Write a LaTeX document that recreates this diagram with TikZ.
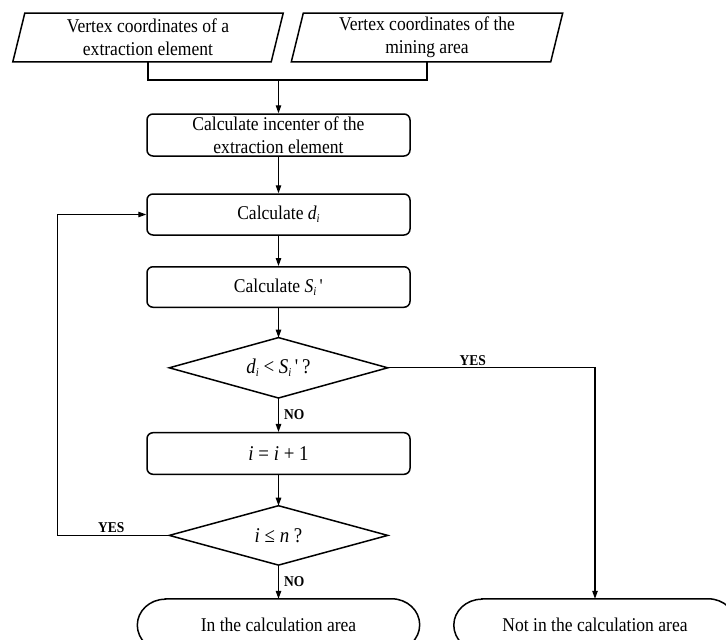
\documentclass[tikz,border=0pt]{standalone}
\usepackage{fontspec}
\setmainfont{Liberation Serif}[FakeStretch=0.9]
\usetikzlibrary{arrows.meta}
\newcommand{\lsub}[1]{\raisebox{-0.35ex}{\fontsize{12}{12}\selectfont\textit{#1}}}
\newcommand{\sprime}{\textquotesingle}
\begin{document}
\begin{tikzpicture}[x=1pt,y=1pt,
  txt/.style={font=\fontsize{19.5}{23}\selectfont, align=center, inner sep=0pt},
  bigtxt/.style={font=\fontsize{21}{24}\selectfont},
  outline/.style={draw=black, line width=1.5pt, line join=miter},
  procbox/.style={txt, draw=black, line width=1.5pt, rounded corners=6pt, minimum width=263pt},
  plainbox/.style={txt, rectangle},
  conn/.style={line width=1.1pt, -{Triangle[length=8pt,width=5.5pt]}},
  line/.style={line width=1.1pt},
  lab/.style={font=\bfseries\fontsize{15}{16}\selectfont, inner sep=2pt}
]
\useasboundingbox (0,0) rectangle (726,-640);
\clip (0,0) rectangle (726,-640);

% input parallelograms
\node[plainbox, minimum width=258pt, minimum height=48.4pt] (p1) at (148,-37.5) {Vertex coordinates of a\\extraction element};
\draw[outline] ([xshift=6pt]p1.north west) -- ([xshift=6pt]p1.north east) -- ([xshift=-6pt]p1.south east) -- ([xshift=-6pt]p1.south west) -- cycle;
\node[plainbox, minimum width=259pt, minimum height=48.4pt] (p2) at (427,-37.5) {Vertex coordinates of the\\mining area};
\draw[outline] ([xshift=6pt]p2.north west) -- ([xshift=6pt]p2.north east) -- ([xshift=-6pt]p2.south east) -- ([xshift=-6pt]p2.south west) -- cycle;

% process boxes
\node[procbox, minimum height=42pt] (b1) at (278.5,-135) {Calculate incenter of the\\extraction element};
\node[procbox, minimum height=41pt] (b2) at (278.5,-214.5) {Calculate \textit{d}\lsub{i}};
\node[procbox, minimum height=40.5pt] (b3) at (278.5,-287) {Calculate \textit{S}\lsub{i}\,\sprime};

% decision 1
\node[plainbox, bigtxt, minimum width=218pt, minimum height=60pt] (d1) at (278.5,-367.8) {\textit{d}\lsub{i} < \textit{S}\lsub{i}\,\sprime\,?};
\draw[outline] (d1.north) -- (d1.east) -- (d1.south) -- (d1.west) -- cycle;

\node[procbox, bigtxt, minimum height=41.6pt] (b4) at (278.5,-453.5) {\textit{i} = \textit{i} + 1};

% decision 2
\node[plainbox, bigtxt, minimum width=218pt, minimum height=59pt] (d2) at (278.5,-535.4) {\textit{i} ≤ \textit{n} ?};
\draw[outline] (d2.north) -- (d2.east) -- (d2.south) -- (d2.west) -- cycle;

% terminals
\node[plainbox, minimum width=282pt, minimum height=52pt] (t1) at (278.5,-625) {In the calculation area};
\draw[outline] ([xshift=28pt]t1.north west) -- ([xshift=-28pt]t1.north east) arc[start angle=90, end angle=-90, x radius=28pt, y radius=26pt] -- ([xshift=28pt]t1.south west) arc[start angle=270, end angle=90, x radius=28pt, y radius=26pt] -- cycle;
\node[plainbox, minimum width=282pt, minimum height=52pt] (t2) at (595,-625) {Not in the calculation area};
\draw[outline] ([xshift=28pt]t2.north west) -- ([xshift=-28pt]t2.north east) arc[start angle=90, end angle=-90, x radius=28pt, y radius=26pt] -- ([xshift=28pt]t2.south west) arc[start angle=270, end angle=90, x radius=28pt, y radius=26pt] -- cycle;

% connectors
\coordinate (j) at (278.5,-80);
\draw[line] (p1.south) |- (j);
\draw[line] (p2.south) |- (j);
\draw[conn] (j) -- (b1.north);
\draw[conn] (b1.south) -- (b2.north);
\draw[conn] (b2.south) -- (b3.north);
\draw[conn] (b3.south) -- (d1.north);
\draw[conn] (d1.south) -- node[lab, right, xshift=3pt] {NO} (b4.north);
\draw[conn] (b4.south) -- (d2.north);
\draw[conn] (d2.south) -- node[lab, right, xshift=3pt] {NO} (t1.north);
\coordinate (lp) at (57.5,-535.4);
\draw[conn] (d2.west) -- node[lab, above, pos=0.52] {YES} (lp) |- (b2.west);
\coordinate (rc) at (595,-367.8);
\draw[conn] (d1.east) -- node[lab, above, pos=0.41] {YES} (rc) -- (t2.north);
\end{tikzpicture}
\end{document}
